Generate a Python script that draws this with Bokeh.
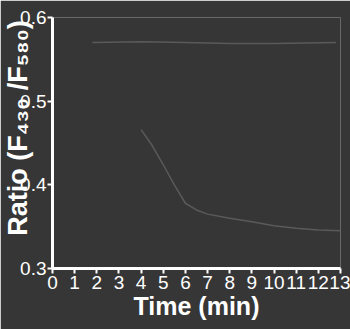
import numpy as np
from bokeh.plotting import figure
from bokeh.models import FixedTicker
from bokeh.embed import file_html
from bokeh.resources import INLINE

# data
t_top = [1.8, 4.0, 6.0, 8.0, 10.0, 12.8]
r_top = [0.570, 0.571, 0.570, 0.569, 0.569, 0.570]

t_curve = [4.0, 4.5, 5.0, 5.5, 6.0, 6.5, 7.0, 8.0, 9.0, 10.0, 11.0, 12.0, 13.0]
r_curve = [0.466, 0.447, 0.424, 0.400, 0.378, 0.370, 0.365, 0.360, 0.356, 0.351, 0.348, 0.346, 0.345]

x_ticks = list(range(0, 14))
y_ticks = [0.3, 0.4, 0.5, 0.6]

BG = "#363636"
FONT = "Liberation Sans"

p = figure(width=350, height=329, x_range=(0, 13), y_range=(0.3, 0.6),
           output_backend="svg", toolbar_location=None,
           min_border_left=51, min_border_right=10, min_border_top=17, min_border_bottom=61)
p.background_fill_color = BG
p.border_fill_color = BG
p.outline_line_color = None
p.grid.visible = False

p.line(t_top, r_top, line_color="#5a5a5a", line_width=1.5)
p.line(t_curve, r_curve, line_color="#5a5a5a", line_width=1.5)

for ax in (p.xaxis[0], p.yaxis[0]):
    ax.axis_line_color = "white"
    ax.axis_line_width = 3
    ax.major_tick_line_color = "white"
    ax.major_tick_line_width = 2
    ax.major_tick_out = 5
    ax.major_tick_in = 0
    ax.minor_tick_line_color = None
    ax.major_label_text_color = "white"
    ax.major_label_text_font = FONT
    ax.major_label_text_font_size = "19px"
    ax.axis_label_text_color = "white"
    ax.axis_label_text_font = FONT
    ax.axis_label_text_font_style = "bold"

p.xaxis.ticker = FixedTicker(ticks=x_ticks)
p.yaxis.ticker = FixedTicker(ticks=y_ticks)
p.xaxis.major_label_standoff = 2
p.yaxis.major_label_standoff = 1
p.xaxis.axis_label = "Time (min)"
p.xaxis.axis_label_standoff = 0
p.xaxis.axis_label_text_font_size = "25px"
p.yaxis.axis_label = "\u00a0\u00a0\u00a0\u00a0Ratio (F\u2084\u2083\u2080 /F\u2085\u2088\u2080)"
p.yaxis.axis_label_text_font_size = "27px"
p.yaxis.axis_label_standoff = -16

open("out.html", "w").write(file_html(p, INLINE))
